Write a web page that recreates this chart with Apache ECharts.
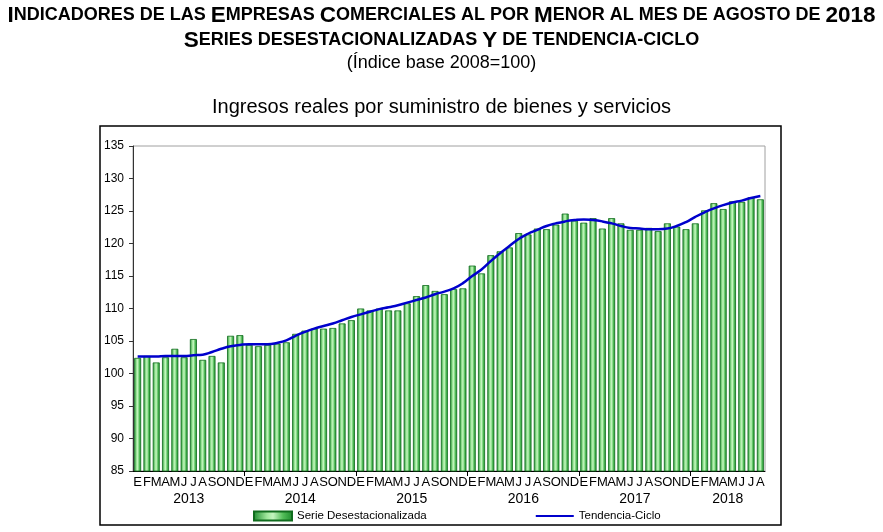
<!DOCTYPE html>
<html>
<head>
    <meta charset="utf-8">
    <title>Ingresos reales por suministro de bienes y servicios</title>
    <script src="https://cdn.jsdelivr.net/npm/echarts@6/dist/echarts.min.js"></script>
</head>
<body style="margin:0;background:#fff">
    <div id="main" style="width: 883px;height:532px;"></div>
    <script type="text/javascript">
        // meses y años del eje
        var meses = ['E', 'F', 'M', 'A', 'M', 'J', 'J', 'A', 'S', 'O', 'N', 'D'];
        var anios = ['2013', '2014', '2015', '2016', '2017', '2018'];

        // Serie desestacionalizada (ene 2013 - ago 2018)
        var serieDesest = [
            102.4, 102.7, 101.7, 102.5, 103.8, 102.5, 105.3, 102.1, 102.7, 101.7, 105.8, 105.9,
            104.4, 104.2, 104.4, 104.6, 104.8, 106.1, 106.6, 106.9, 106.9, 107.0, 107.7, 108.2,
            110.0, 109.7, 110.0, 109.7, 109.7, 110.8, 111.9, 113.6, 112.7, 112.2, 113.0, 113.1,
            116.6, 115.4, 118.2, 118.8, 119.4, 121.6, 121.4, 122.3, 122.2, 122.9, 124.6, 123.5,
            123.2, 123.9, 122.3, 123.9, 123.1, 122.1, 122.1, 122.4, 121.9, 123.1, 122.6, 122.2,
            123.1, 125.1, 126.2, 125.3, 126.5, 126.4, 127.1, 126.8
        ];

        // Tendencia-ciclo
        var tendencia = [
            102.6, 102.6, 102.6, 102.7, 102.7, 102.7, 102.8, 102.9, 103.3, 103.8, 104.2, 104.4,
            104.5, 104.5, 104.5, 104.7, 105.1, 105.8, 106.4, 106.9, 107.3, 107.7, 108.2, 108.7,
            109.1, 109.5, 109.9, 110.2, 110.5, 110.9, 111.3, 111.7, 112.2, 112.6, 113.1, 113.9,
            115.0, 116.0, 117.3, 118.5, 119.6, 120.7, 121.5, 122.1, 122.7, 123.1, 123.4, 123.6,
            123.7, 123.6, 123.4, 123.1, 122.7, 122.4, 122.3, 122.2, 122.2, 122.3, 122.7, 123.3,
            124.1, 124.8, 125.4, 125.9, 126.3, 126.6, 127.0, 127.3
        ];

        var n = serieDesest.length;
        var categorias = [];
        for (var i = 0; i < n; i++) {
            categorias.push(anios[Math.floor(i / 12)] + '-' + meses[i % 12]);
        }

        // centro de cada año y límites entre años
        var centrosAnio = [], etiquetaAnio = {}, limites = [];
        for (var a = 0; a < anios.length; a++) {
            var cuenta = Math.min(12, n - a * 12);
            var c = a * 12 + cuenta / 2;
            centrosAnio.push(c);
            etiquetaAnio[c] = anios[a];
            if (a > 0) limites.push(a * 12);
        }

        // versalitas: minúsculas -> mayúscula pequeña
        function versalitas(s) {
            var out = '', cur = null, buf = '';
            for (var k = 0; k < s.length; k++) {
                var ch = s[k];
                var st = (/[a-z \-]/.test(ch)) ? 's' : 'b';
                if (st !== cur && buf) {
                    out += '{' + cur + '|' + buf + '}';
                    buf = '';
                }
                cur = st;
                buf += ch.toUpperCase();
            }
            if (buf) out += '{' + cur + '|' + buf + '}';
            return out;
        }

        var sans = "'Liberation Sans', Arial, sans-serif";
        var richTitulo = {
            b: { fontFamily: sans, fontWeight: 'bold', fontSize: 22.5, color: '#000' },
            s: { fontFamily: sans, fontWeight: 'bold', fontSize: 18, color: '#000' }
        };

        var myChart = echarts.init(document.getElementById('main'));

        var option = {
            animation: false,
            backgroundColor: '#fff',
            title: [{
                text: versalitas('Indicadores de las Empresas Comerciales al por Menor al mes de agosto de 2018'),
                left: 'center',
                top: -1,
                textStyle: { rich: richTitulo }
            }, {
                text: versalitas('Series desestacionalizadas Y de tendencia-ciclo'),
                left: 'center',
                top: 24,
                textStyle: { rich: richTitulo }
            }, {
                text: '(Índice base 2008=100)',
                left: 'center',
                top: 49,
                textStyle: { fontFamily: sans, fontWeight: 'normal', fontSize: 18, color: '#000' }
            }, {
                text: 'Ingresos reales por suministro de bienes y servicios',
                left: 'center',
                top: 92,
                textStyle: { fontFamily: sans, fontWeight: 'normal', fontSize: 20, color: '#000' }
            }],
            graphic: [{
                type: 'rect',
                shape: { x: 100, y: 126, width: 681, height: 399 },
                style: { fill: null, stroke: '#000', lineWidth: 1.5 },
                silent: true
            }],
            legend: {
                left: 248,
                top: 505,
                itemGap: 108,
                itemWidth: 38,
                itemHeight: 9,
                textStyle: { fontFamily: sans, fontSize: 11.5, color: '#000' },
                data: [
                    { name: 'Serie Desestacionalizada', icon: 'rect' },
                    { name: 'Tendencia-Ciclo', itemStyle: { opacity: 0 } }
                ]
            },
            grid: {
                left: 133,
                right: 118,
                top: 146,
                bottom: 61,
                show: true,
                borderColor: '#a0a0a0',
                borderWidth: 1
            },
            xAxis: [{
                type: 'category',
                data: categorias,
                axisLine: { show: false },
                axisTick: { show: false },
                axisLabel: {
                    interval: 0,
                    margin: 5,
                    fontFamily: sans,
                    fontSize: 13,
                    color: '#000',
                    formatter: function (v) { return v.split('-')[1]; }
                }
            }, {
                type: 'value',
                position: 'bottom',
                min: 0,
                max: n,
                axisLine: { show: true, lineStyle: { color: '#000', width: 1 } },
                axisTick: { show: true, customValues: limites, length: 5, lineStyle: { color: '#000' } },
                splitLine: { show: false },
                axisLabel: {
                    customValues: centrosAnio,
                    margin: 21,
                    fontFamily: sans,
                    fontSize: 14,
                    color: '#000',
                    formatter: function (v) { return etiquetaAnio[v] || ''; }
                }
            }],
            yAxis: {
                type: 'value',
                min: 85,
                max: 135,
                interval: 5,
                axisLine: { show: true, lineStyle: { color: '#333', width: 1 } },
                axisTick: { show: true, length: 4, lineStyle: { color: '#333' } },
                splitLine: { show: false },
                axisLabel: { fontFamily: sans, fontSize: 12, color: '#000', margin: 9 }
            },
            series: [{
                name: 'Serie Desestacionalizada',
                type: 'bar',
                data: serieDesest,
                barWidth: 7,
                itemStyle: {
                    color: new echarts.graphic.LinearGradient(0, 0, 1, 0, [
                        { offset: 0, color: '#1b8a2c' },
                        { offset: 0.35, color: '#a0e89c' },
                        { offset: 0.5, color: '#c4f5bf' },
                        { offset: 0.75, color: '#52bd58' },
                        { offset: 1, color: '#1b8a2c' }
                    ]),
                    borderColor: '#106c1d',
                    borderWidth: 0.8
                }
            }, {
                name: 'Tendencia-Ciclo',
                type: 'line',
                data: tendencia,
                smooth: true,
                symbol: 'none',
                z: 5,
                lineStyle: { color: '#0000cc', width: 2.5 },
                itemStyle: { color: '#0000cc' }
            }]
        };

        myChart.setOption(option);
    </script>
</body>
</html>
